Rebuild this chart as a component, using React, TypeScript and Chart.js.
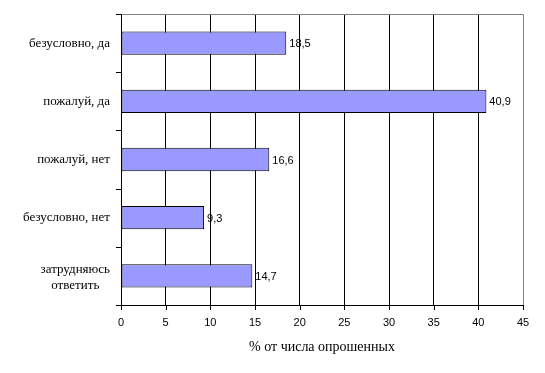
import React, { useEffect, useRef } from "react";
import { Chart, registerables } from "chart.js";

Chart.register(...registerables);

const categories: string[][] = [
  ["безусловно, да"],
  ["пожалуй, да"],
  ["пожалуй, нет"],
  ["безусловно, нет"],
  ["затрудняюсь", "ответить"],
];
const values: number[] = [18.5, 40.9, 16.6, 9.3, 14.7];
const xTicks: number[] = [0, 5, 10, 15, 20, 25, 30, 35, 40, 45];
const axisTitle = "% от числа опрошенных";

const SERIF = "'Liberation Serif', 'Times New Roman', serif";
const SANS = "'Liberation Sans', Arial, sans-serif";

export default function App() {
  const ref = useRef<HTMLCanvasElement | null>(null);

  useEffect(() => {
    document.body.style.margin = "0";
    const canvas = ref.current!;
    const framePlugin = {
      id: "frame",
      afterDraw(chart: any) {
        const ctx = chart.ctx;
        const a = chart.chartArea;
        const xs = chart.scales.x;
        const ys = chart.scales.y;
        ctx.save();
        ctx.strokeStyle = "#808080";
        ctx.lineWidth = 1;
        ctx.beginPath();
        ctx.moveTo(Math.round(a.left) + 0.5, Math.round(a.top) + 0.5);
        ctx.lineTo(Math.round(a.right) + 0.5, Math.round(a.top) + 0.5);
        ctx.lineTo(Math.round(a.right) + 0.5, Math.round(a.bottom) + 0.5);
        ctx.stroke();
        ctx.strokeStyle = "#000";
        ctx.beginPath();
        ctx.moveTo(Math.round(a.left) + 0.5, Math.round(a.top) + 0.5);
        ctx.lineTo(Math.round(a.left) + 0.5, Math.round(a.bottom) + 0.5);
        ctx.lineTo(Math.round(a.right) + 0.5, Math.round(a.bottom) + 0.5);
        ctx.stroke();
        const n = categories.length;
        const step = (a.bottom - a.top) / n;
        ctx.beginPath();
        for (let i = 0; i <= n; i++) {
          const y = Math.round(a.top + i * step) + 0.5;
          ctx.moveTo(a.left - 5, y);
          ctx.lineTo(a.left, y);
        }
        xTicks.forEach((t) => {
          const x = Math.round(xs.getPixelForValue(t)) + 0.5;
          ctx.moveTo(x, a.bottom);
          ctx.lineTo(x, a.bottom + 5);
        });
        ctx.stroke();
        ctx.fillStyle = "#000";
        ctx.font = "13px " + SERIF;
        ctx.textBaseline = "middle";
        ctx.textAlign = "center";
        const rightEdge = a.left - 11;
        categories.forEach((lines, i) => {
          const cy = ys.getPixelForValue(i) + (lines.length > 1 ? 1.5 : 0);
          const maxW = Math.max(...lines.map((l) => ctx.measureText(l).width));
          const cx = rightEdge - maxW / 2;
          const lh = 16;
          lines.forEach((l, j) => {
            const y = cy + (j - (lines.length - 1) / 2) * lh;
            ctx.fillText(l, cx, y);
          });
        });
        ctx.font = "11px " + SANS;
        ctx.textBaseline = "middle";
        xTicks.forEach((t) => {
          ctx.fillText(String(t), xs.getPixelForValue(t), a.bottom + 18);
        });
        ctx.font = "14px " + SERIF;
        ctx.fillText(axisTitle, (a.left + a.right) / 2, a.bottom + 42);
        ctx.font = "11px " + SANS;
        ctx.textAlign = "left";
        const meta = chart.getDatasetMeta(0);
        meta.data.forEach((bar: any, i: number) => {
          ctx.fillText(
            values[i].toFixed(1).replace(".", ","),
            bar.x + 3,
            bar.y + 1
          );
        });
        ctx.restore();
      },
    };

    const chart = new Chart(canvas, {
      type: "bar",
      data: {
        labels: categories.map((c) => c.join(" ")),
        datasets: [
          {
            data: values,
            backgroundColor: "#9999FF",
            borderColor: "#000000",
            borderWidth: 1,
            borderSkipped: false,
            barPercentage: 0.4,
            categoryPercentage: 1,
          },
        ],
      },
      options: {
        indexAxis: "y",
        animation: false,
        responsive: false,
        maintainAspectRatio: false,
        layout: { padding: { top: 14, right: 22, left: 0, bottom: 0 } },
        plugins: {
          legend: { display: false },
          tooltip: { enabled: false },
        },
        scales: {
          x: {
            type: "linear",
            min: 0,
            max: 45,
            ticks: { stepSize: 5, display: false },
            border: { display: false },
            grid: {
              drawTicks: false,
              color: (c: any) => (c.tick && c.tick.value === 45 ? "rgba(0,0,0,0)" : "#000000"),
              lineWidth: 1,
            },
            afterFit(scale: any) {
              scale.height = 68;
            },
          },
          y: {
            type: "category",
            ticks: { display: false },
            border: { display: false },
            grid: { display: false },
            afterFit(scale: any) {
              scale.width = 121;
            },
          },
        },
      },
      plugins: [framePlugin],
    });
    return () => chart.destroy();
  }, []);

  return (
    <div style={{ width: 545, height: 373 }}>
      <canvas ref={ref} width={545} height={373} style={{ display: "block" }} />
    </div>
  );
}
